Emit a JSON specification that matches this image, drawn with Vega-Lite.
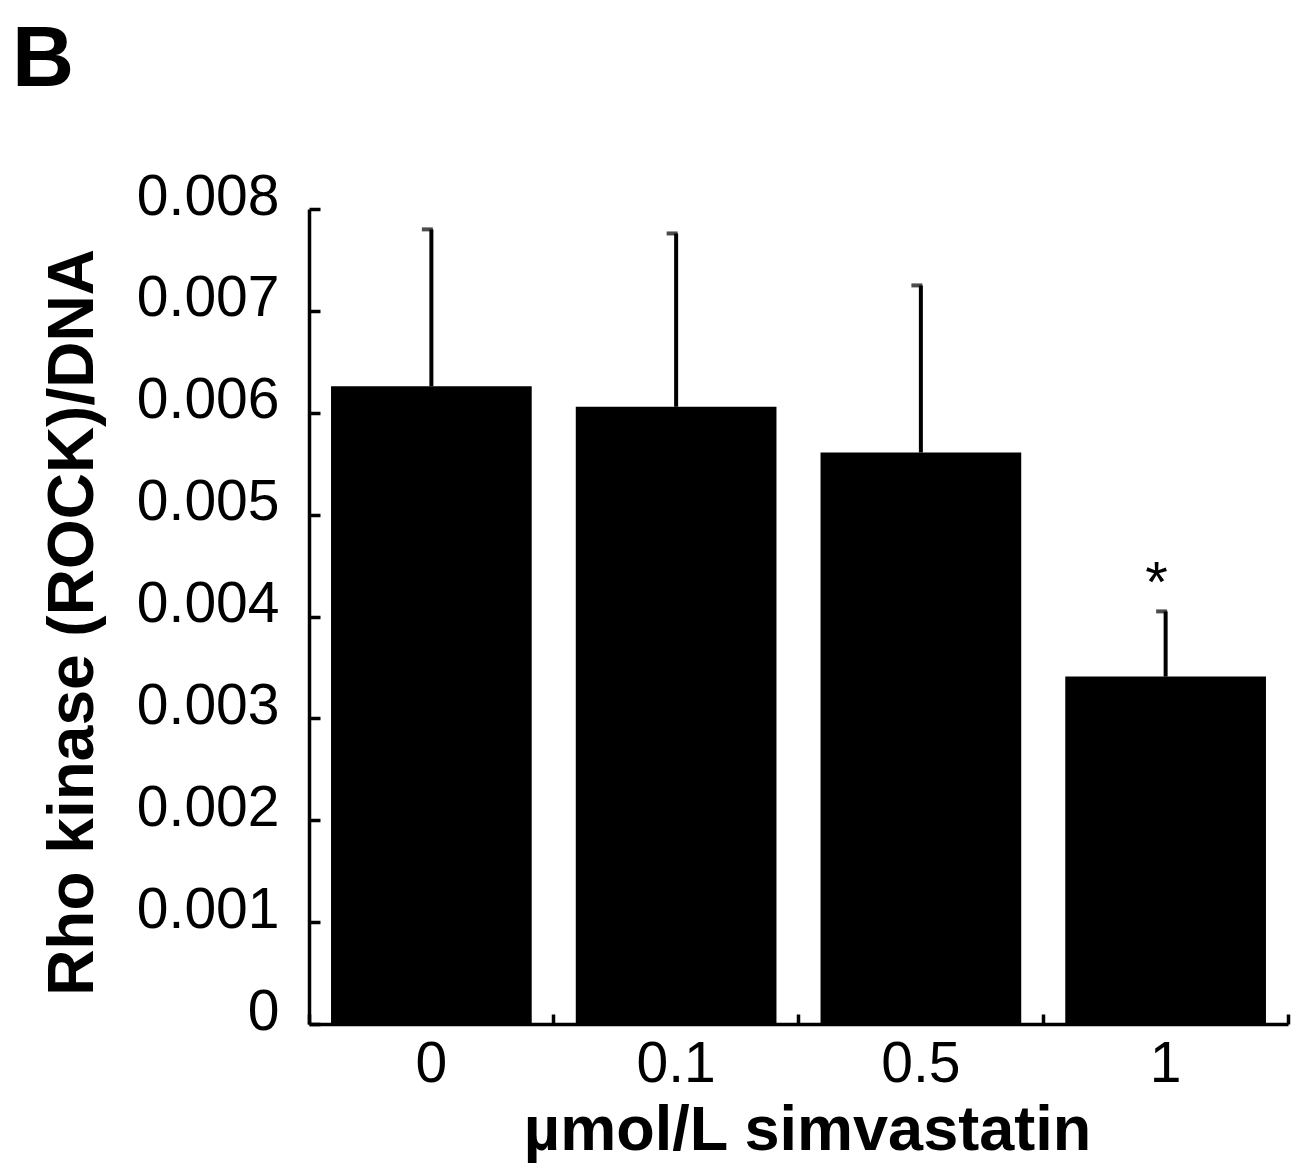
{
  "$schema": "https://vega.github.io/schema/vega-lite/v6.json",
  "autosize": "none",
  "width": 979,
  "height": 815,
  "padding": {"left": 309, "top": 209, "right": 15, "bottom": 140},
  "background": "white",
  "config": {"view": {"stroke": null}, "font": "Liberation Sans"},
  "title": {
    "text": "B",
    "anchor": "start",
    "frame": "group",
    "font": "Liberation Sans",
    "fontSize": 86,
    "fontWeight": "bold",
    "color": "black",
    "baseline": "top",
    "offset": 0,
    "dy": -64,
    "dx": -297
  },
  "data": {
    "values": [
      {"dose": "0", "mean": 0.00626, "upper": 0.0078, "sig": ""},
      {"dose": "0.1", "mean": 0.00606, "upper": 0.00776, "sig": ""},
      {"dose": "0.5", "mean": 0.00561, "upper": 0.00725, "sig": ""},
      {"dose": "1", "mean": 0.00341, "upper": 0.00405, "sig": "*"}
    ]
  },
  "encoding": {
    "x": {
      "field": "dose",
      "type": "nominal",
      "sort": null,
      "scale": {"paddingInner": 0, "paddingOuter": 0},
      "axis": {
        "title": "µmol/L  simvastatin",
        "titleFont": "Liberation Sans",
        "titleFontSize": 63,
        "titleFontWeight": "bold",
        "titleColor": "black",
        "titleBaseline": "alphabetic",
        "titleAlign": "center",
        "titleX": 498,
        "titleY": 125,
        "labelAngle": 0,
        "labelFont": "Liberation Sans",
        "labelFontSize": 57,
        "labelColor": "black",
        "labelPadding": 22,
        "bandPosition": 1,
        "tickExtra": true,
        "tickSize": -10,
        "tickWidth": 3.5,
        "tickColor": "black",
        "domainWidth": 3.5,
        "domainColor": "black",
        "grid": false
      }
    },
    "y": {
      "field": "mean",
      "type": "quantitative",
      "scale": {"domain": [0, 0.008], "nice": false},
      "axis": {
        "title": "Rho kinase (ROCK)/DNA",
        "titleFont": "Liberation Sans",
        "titleFontSize": 64,
        "titleFontWeight": "bold",
        "titleColor": "black",
        "titleAngle": 270,
        "titleBaseline": "alphabetic",
        "titleAlign": "center",
        "titleX": -217,
        "titleY": 413,
        "values": [0, 0.001, 0.002, 0.003, 0.004, 0.005, 0.006, 0.007, 0.008],
        "format": ".3~f",
        "labelFont": "Liberation Sans",
        "labelFontSize": 57,
        "labelColor": "black",
        "labelPadding": 41,
        "labelBaseline": "middle",
        "labelOffset": -12,
        "tickSize": -11,
        "tickWidth": 3.5,
        "tickColor": "black",
        "domainWidth": 3.5,
        "domainColor": "black",
        "grid": false
      }
    }
  },
  "layer": [
    {
      "mark": {"type": "rule", "color": "black", "strokeWidth": 4},
      "encoding": {"y2": {"field": "upper"}}
    },
    {
      "mark": {"type": "tick", "color": "black", "thickness": 4, "size": 11, "xOffset": -4},
      "encoding": {"y": {"field": "upper", "type": "quantitative"}}
    },
    {
      "mark": {"type": "bar", "color": "black", "width": {"band": 0.82}}
    },
    {
      "mark": {"type": "text", "font": "Liberation Sans", "fontSize": 58, "color": "black", "baseline": "alphabetic", "dy": -9, "dx": -9},
      "encoding": {
        "y": {"field": "upper", "type": "quantitative"},
        "text": {"field": "sig"}
      }
    }
  ]
}
